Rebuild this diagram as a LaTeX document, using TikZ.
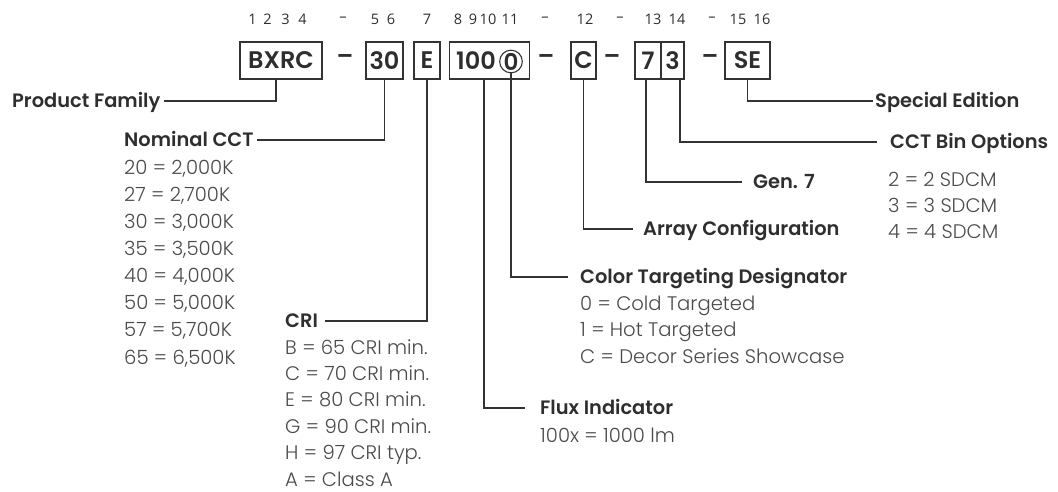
\documentclass[tikz,border=0pt]{standalone}
\usepackage{fontspec}
\setmainfont{Poppins}
\newfontfamily\numfont{Open Sans}
\newfontfamily\lightfont{Poppins Light}
\newfontfamily\semifont{Poppins SemiBold}
\definecolor{labc}{HTML}{2E2E2E}
\definecolor{itemc}{HTML}{4A4A4A}
\definecolor{linec}{HTML}{333333}
\begin{document}
\begin{tikzpicture}[x=1pt,y=-1pt,
  lbl/.style={anchor=base west,inner sep=0pt,text height=13pt,text depth=1pt,
    font=\semifont\fontsize{19.4}{22}\selectfont,text=labc},
  item/.style={anchor=base west,inner sep=0pt,text depth=1pt,font=\lightfont\fontsize{19.6}{22}\selectfont,text=itemc},
  posnum/.style={inner sep=0pt,font=\numfont\fontsize{14.5}{16}\selectfont,text=labc},
  codebox/.style={draw=linec,line width=1.3pt,inner sep=0pt,minimum height=37pt,
    font=\semifont\fontsize{24}{28}\selectfont,text=labc},
  codetext/.style={inner sep=0pt,font=\semifont\fontsize{24}{28}\selectfont,text=labc},
  lead/.style={draw=linec,line width=1.2pt}]
\useasboundingbox (0,0) rectangle (1058,491);
% position numbers
\foreach \t/\x [count=\i] in {1/252.5,2/267.5,3/285.5,4/302.5,–/343,5/375,6/391,7/427,8/458,9/473,10/488,11/510,–/545,12/585,–/620,13/653,14/677,–/712,15/738,16/762}
  \node[posnum] (p\i) at (\x,19.5) {\t};
% code boxes
\node[codebox,minimum width=82pt] (bxrc) at (281,60.5) {BXRC};
\node[codetext] (d1) at (345,60) {–};
\node[codebox,minimum width=37pt] (b30) at (384.5,60.5) {30};
\node[codebox,minimum width=26pt] (bE) at (427,60.5) {E};
\node[codebox,minimum width=80pt] (b100) at (489.5,60.5) {};
\node[codetext] (t100) at (476,61) {100};
\node[draw=linec,line width=1.1pt,circle,minimum size=21pt,inner sep=0pt,
  font=\semifont\fontsize{23}{27}\selectfont,text=labc] (zero) at (511,61.5) {0};
\node[codetext] (d2) at (546,60) {–};
\node[codebox,minimum width=25pt] (bC) at (583.5,60.5) {C};
\node[codetext] (d3) at (612,60) {–};
\node[codebox,minimum width=26pt] (b7) at (648,60.5) {7};
\node[codebox,minimum width=23pt] (b3) at (672.5,60.5) {3};
\node[codetext] (d4) at (710,60) {–};
\node[codebox,minimum width=45pt] (bSE) at (747.5,60.5) {SE};
% labels
\node[lbl] (pf) at (12,107) {Product Family};
\node[lbl] (ncct) at (124,146) {Nominal CCT};
\node[lbl] (cri) at (285,327) {CRI};
\node[lbl] (flux) at (540,414) {Flux Indicator};
\node[lbl] (ctd) at (580,283) {Color Targeting Designator};
\node[lbl] (ac) at (643,235) {Array Configuration};
\node[lbl] (gen) at (753,188) {Gen. 7};
\node[lbl] (bin) at (890,148) {CCT Bin Options};
\node[lbl] (se) at (875,107) {Special Edition};
% items
\foreach \t [count=\i from 0] in {20 = 2{,}000K,27 = 2{,}700K,30 = 3{,}000K,35 = 3{,}500K,40 = 4{,}000K,50 = 5{,}000K,57 = 5{,}700K,65 = 6{,}500K}
  \node[item] (cct\i) at (124,174+27.15*\i) {\t};
\foreach \t [count=\i from 0] in {B = 65 CRI min.,C = 70 CRI min.,E = 80 CRI min.,G = 90 CRI min.,H = 97 CRI typ.,A = Class A}
  \node[item] (cri\i) at (285,354+26.4*\i) {\t};
\node[item] (flux0) at (540,442) {100x = 1000 lm};
\foreach \t [count=\i from 0] in {0 = Cold Targeted,1 = Hot Targeted,C = Decor Series Showcase}
  \node[item] (ctd\i) at (580,310+26.5*\i) {\t};
\foreach \t [count=\i from 0] in {2 = 2 SDCM,3 = 3 SDCM,4 = 4 SDCM}
  \node[item] (bin\i) at (888,186+26*\i) {\t};
% leaders
\draw[lead] ([xshift=-5pt]bxrc.south) |- ([xshift=3pt]pf.east);
\draw[lead] (b30.south) |- ([xshift=3pt]ncct.east);
\draw[lead] (bE.south) |- ([xshift=7pt]cri.east);
\draw[lead] ([xshift=-5.5pt]b100.south) |- ([xshift=-15pt]flux.west);
\draw[lead] (zero.south) |- ([xshift=-12pt]ctd.west);
\draw[lead] (bC.south) |- ([xshift=-10pt]ac.west);
\draw[lead] ([xshift=-2pt]b7.south) |- ([xshift=-11pt]gen.west);
\draw[lead] ([xshift=7.5pt]b3.south) |- ([xshift=-13pt]bin.west);
\draw[lead] (bSE.south) |- ([xshift=-2pt]se.west);
\end{tikzpicture}
\end{document}
